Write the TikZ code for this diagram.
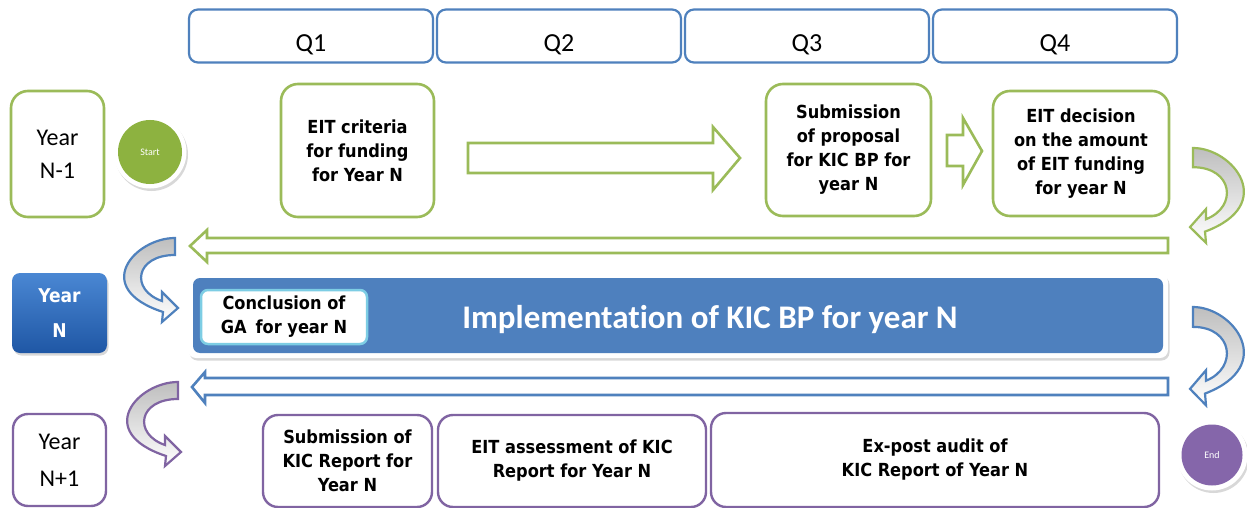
\documentclass[tikz,border=0pt]{standalone}
\usepackage{fontspec}
\setmainfont{Carlito}[Ligatures=NoCommon]
\newfontfamily\tah{DejaVu Sans Condensed}
\usetikzlibrary{shadows}
\definecolor{grn}{RGB}{155,187,89}
\definecolor{blu}{RGB}{79,129,189}
\definecolor{pur}{RGB}{128,100,162}
\definecolor{startg}{RGB}{141,178,64}
\definecolor{endp}{RGB}{133,102,170}
\definecolor{barc}{RGB}{78,128,190}
\definecolor{cyanb}{RGB}{125,205,228}
\definecolor{ytop}{RGB}{74,135,211}
\definecolor{ybot}{RGB}{31,87,165}
\definecolor{cgray}{RGB}{190,190,190}
\tikzset{carrow/.pic={\path[pic actions] (0,0) .. controls (-40,0) and (-85,50) .. (-12,74) -- (-13,84) -- (3,70) -- (-13,54) -- (-13,63) .. controls (-45,52) and (-40,17) .. (0,17) -- cycle;}}
\begin{document}
\begin{tikzpicture}[x=1pt,y=-1pt,
  qbox/.style={draw=blu, line width=2.2pt, rounded corners=9pt, minimum width=244pt, minimum height=53pt, inner sep=0pt},
  qtext/.style={font=\fontsize{26}{30}\selectfont, anchor=base},
  boldtxt/.style={font=\tah\bfseries\fontsize{18}{24}\selectfont},
  gbox/.style={draw=grn, line width=2.6pt, rounded corners=17pt, fill=white, inner sep=0pt, align=center, boldtxt},
  pbox/.style={draw=pur, line width=2.4pt, rounded corners=15pt, fill=white, inner sep=0pt, align=center, boldtxt},
  harrow/.style={line width=2.6pt, fill=white, line join=miter},
  carr/.style={line width=2.2pt, top color=cgray, bottom color=white, transform shape},
  softshadow/.style={drop shadow={opacity=0.3, shadow xshift=1.5pt, shadow yshift=-2.5pt}},
]
\useasboundingbox (0,0) rectangle (1247,508);
\fill[white] (0,0) rectangle (1247,508);

% quarter headers
\node[qbox] (q1) at (311,36) {};
\node[qbox] (q2) at (559,36) {};
\node[qbox] (q3) at (807,36) {};
\node[qbox] (q4) at (1055,36) {};
\node[qtext] (q1t) at (311,52) {Q1};
\node[qtext] (q2t) at (559,52) {Q2};
\node[qtext] (q3t) at (807,52) {Q3};
\node[qtext] (q4t) at (1055,52) {Q4};

% row Year N-1
\node[gbox, minimum width=93pt, minimum height=126pt, font=\fontsize{24}{33}\selectfont] (y1) at (57.5,154) {Year\\N-1};
\node[circle, fill=white, minimum size=73pt, inner sep=0pt, softshadow] (startring) at (150,152) {};
\node[circle, fill=startg, minimum size=64pt, inner sep=0pt, text=white, font=\fontsize{10}{11}\selectfont] (start) at (150,152) {Start};
\node[gbox, minimum width=153pt, minimum height=133pt] (crit) at (357.5,150.5) {EIT criteria\\for funding\\for Year N};
\node[gbox, minimum width=165pt, minimum height=132pt] (subm) at (848.5,150) {Submission\\of proposal\\for KIC BP for\\year N};
\node[gbox, minimum width=176pt, minimum height=125pt] (dec) at (1081,153.5) {EIT decision\\on the amount\\of EIT funding\\for year N};

\draw[harrow, draw=grn] (468,143) -- (713,143) -- (713,127) -- (740,158) -- (713,190) -- (713,173) -- (468,173) -- cycle;
\draw[harrow, draw=grn] (947,135) -- (963,135) -- (963,118) -- (982,151) -- (963,185) -- (963,166) -- (947,166) -- cycle;

\begin{scope}[shift={(1193,148)}, xscale=-1, yscale=1.13]
\pic[draw=grn, carr] (cg) {carrow};
\end{scope}
\draw[harrow, draw=grn] (1168,238) -- (207,238) -- (207,230) -- (190,246) -- (207,262) -- (207,253) -- (1168,253) -- cycle;
\begin{scope}[shift={(175,238)}]
\pic[draw=blu, carr] (cbl) {carrow};
\end{scope}

% row Year N
\node[rounded corners=8pt, minimum width=95pt, minimum height=80pt, top color=ytop, bottom color=ybot, text=white, align=center, font=\tah\bfseries\fontsize{19}{35}\selectfont, softshadow] (yn) at (59.5,313) {Year\\N};
\node[fill=white, rounded corners=8pt, minimum width=980pt, minimum height=84pt, softshadow] (barframe) at (678,316) {};
\node[fill=barc, rounded corners=7pt, minimum width=970pt, minimum height=75pt] (bar) at (678,315.5) {};
\node[text=white, font=\bfseries\fontsize{33}{36}\selectfont, anchor=base] (impl) at (710,328) {Implementation of KIC BP for year N};
\node[fill=white, draw=cyanb, line width=2.5pt, rounded corners=7pt, minimum width=166pt, minimum height=54pt, inner sep=0pt, align=center, boldtxt] (concl) at (284,317) {Conclusion of\\GA\enspace for year N};

\begin{scope}[shift={(1193,307)}, xscale=-1, yscale=1.17]
\pic[draw=blu, carr] (cbr) {carrow};
\end{scope}
\draw[harrow, draw=blu] (1168,378) -- (205,378) -- (205,372) -- (192,387) -- (205,403) -- (205,395) -- (1168,395) -- cycle;
\begin{scope}[shift={(178,382)}]
\pic[draw=pur, carr] (cpl) {carrow};
\end{scope}

% row Year N+1
\node[pbox, minimum width=93pt, minimum height=92pt, font=\fontsize{24}{37}\selectfont] (y3) at (59.5,460) {Year\\N+1};
\node[pbox, minimum width=169pt, minimum height=92pt] (rep) at (347.5,461) {Submission of\\KIC Report for\\Year N};
\node[pbox, minimum width=268pt, minimum height=92pt] (assess) at (572,461) {EIT assessment of KIC\\Report for Year N};
\node[pbox, minimum width=448pt, minimum height=94pt] (audit) at (935,460) {Ex-post audit of\\KIC Report of Year N};
\node[circle, fill=white, minimum size=71pt, inner sep=0pt, softshadow] (endring) at (1212,455) {};
\node[circle, fill=endp, minimum size=61pt, inner sep=0pt, text=white, font=\fontsize{10}{11}\selectfont] (end) at (1212,455) {End};
\end{tikzpicture}
\end{document}
